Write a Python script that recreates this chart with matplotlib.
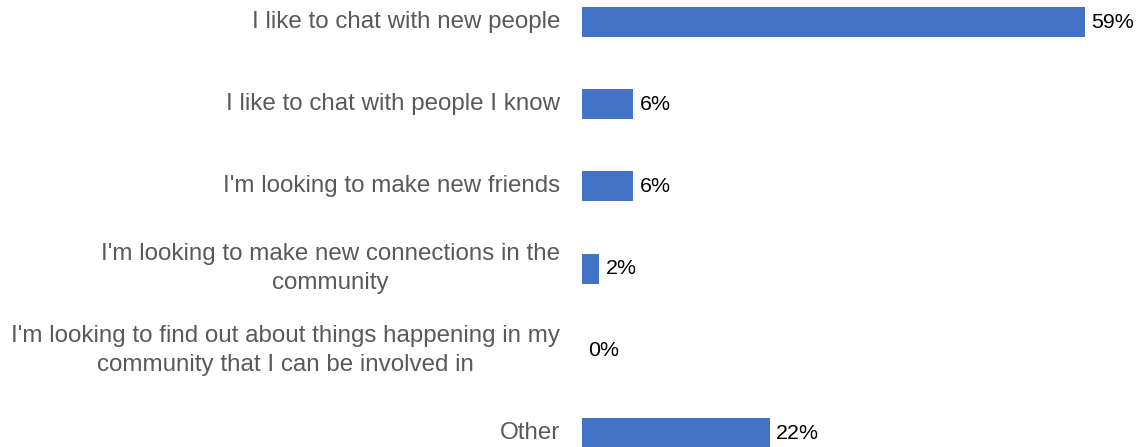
import matplotlib
matplotlib.use("Agg")
import matplotlib.pyplot as plt

# Survey answers, top to bottom
categories = [
    "I like to chat with new people",
    "I like to chat with people I know",
    "I'm looking to make new friends",
    "I'm looking to make new connections in the\ncommunity",
    "I'm looking to find out about things happening in my\ncommunity that I can be involved in",
    "Other",
]
shares = [59, 6, 6, 2, 0, 22]
value_labels = ["59%", "6%", "6%", "2%", "0%", "22%"]

plt.rcParams["font.family"] = ["Liberation Sans", "DejaVu Sans"]

W, H = 1141, 447
fig = plt.figure(figsize=(W / 100, H / 100), dpi=100)
ax = fig.add_axes([582 / W, 0, (1085 - 582) / W, 1])

ypos = list(range(len(categories)))
ax.barh(ypos, shares, height=0.365, color="#4472C4")

ax.set_xlim(0, 59)
ax.set_ylim(5.17, -0.268)

for y, v, lab in zip(ypos, shares, value_labels):
    ax.text(v + 0.75, y, lab, va="center", ha="left", fontsize=15.4,
            color="black", clip_on=False)

for y, cat in zip(ypos, categories):
    ax.text(-2.55, y, cat, va="center", ha="right", multialignment="center",
            fontsize=17.4, color="#595959", linespacing=1.42, clip_on=False)

ax.axis("off")
fig.savefig("out.png", dpi=100)
